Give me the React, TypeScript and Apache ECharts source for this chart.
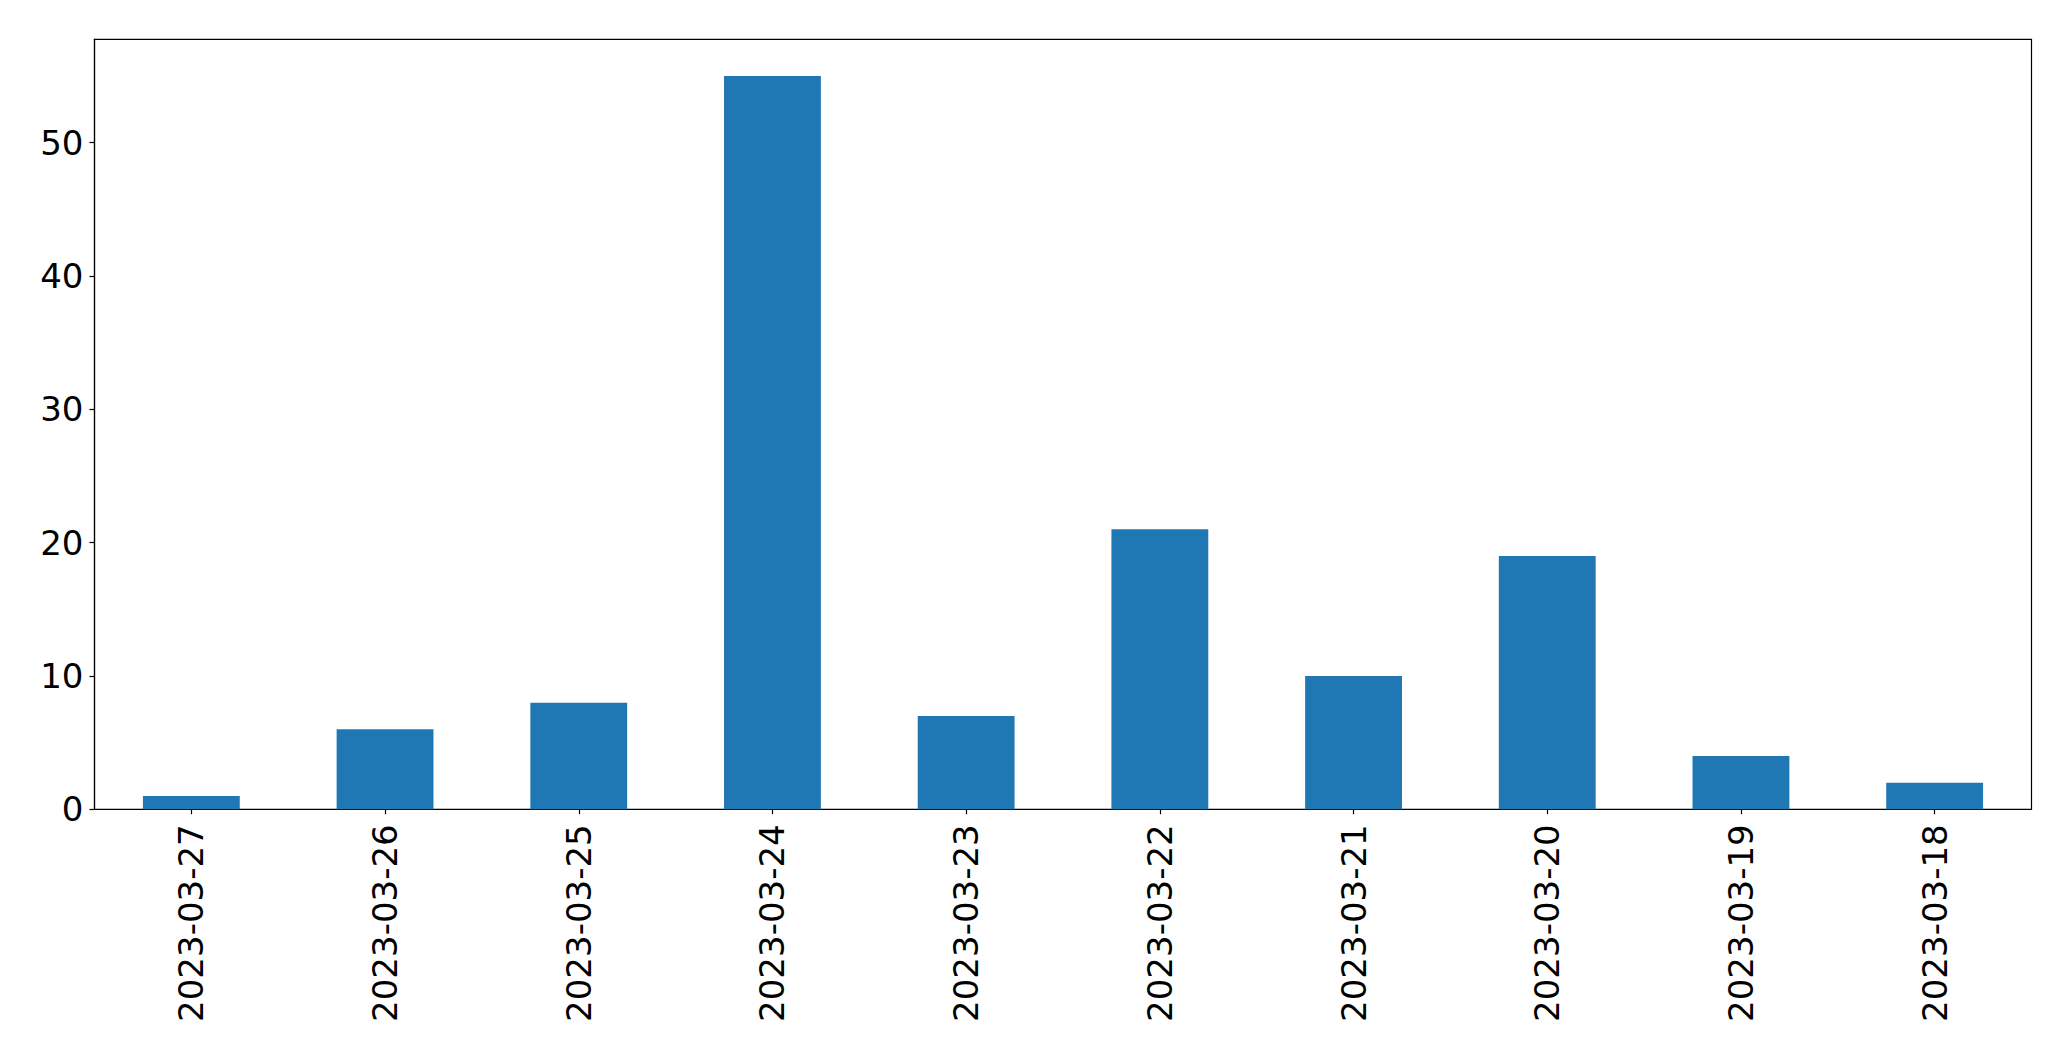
import React, { useEffect, useRef } from "react";
import * as echarts from "echarts";

const categories = [
  "2023-03-27",
  "2023-03-26",
  "2023-03-25",
  "2023-03-24",
  "2023-03-23",
  "2023-03-22",
  "2023-03-21",
  "2023-03-20",
  "2023-03-19",
  "2023-03-18",
];
const counts = [1, 6, 8, 55, 7, 21, 10, 19, 4, 2];
const yTicks = [0, 10, 20, 30, 40, 50];
const yMax = 57.75;

export default function App() {
  const ref = useRef<HTMLDivElement>(null);
  useEffect(() => {
    document.body.style.margin = "0";
    const chart = echarts.init(ref.current!, null, { renderer: "svg" });
    const font = "DejaVu Sans";
    chart.setOption({
      animation: false,
      backgroundColor: "#ffffff",
      grid: {
        left: 94.5,
        top: 39.3,
        width: 1937,
        height: 770,
        show: true,
        borderColor: "#000000",
        borderWidth: 1.2,
        backgroundColor: "transparent",
      },
      xAxis: {
        type: "category",
        data: categories,
        boundaryGap: true,
        axisLine: { show: true, lineStyle: { color: "#000000", width: 1.2 } },
        axisTick: {
          show: true,
          alignWithLabel: true,
          interval: 0,
          length: 5,
          lineStyle: { color: "#000000", width: 1.2 },
        },
        axisLabel: {
          interval: 0,
          rotate: 90,
          margin: 15,
          color: "#000000",
          fontFamily: font,
          fontSize: 34,
        },
        splitLine: { show: false },
      },
      yAxis: {
        type: "value",
        min: 0,
        max: yMax,
        axisLine: { show: true, lineStyle: { color: "#000000", width: 1.2 } },
        axisTick: {
          show: true,
          length: 5,
          customValues: yTicks,
          lineStyle: { color: "#000000", width: 1.2 },
        },
        axisLabel: {
          customValues: yTicks,
          margin: 11,
          color: "#000000",
          fontFamily: font,
          fontSize: 34,
        },
        splitLine: { show: false },
      },
      series: [
        {
          type: "bar",
          data: counts,
          barWidth: "50%",
          itemStyle: { color: "#1f77b4" },
        },
      ],
    });
    return () => chart.dispose();
  }, []);
  return (
    <div
      ref={ref}
      style={{ position: "fixed", left: 0, top: 0, width: 2071, height: 1061, background: "#fff" }}
    />
  );
}
